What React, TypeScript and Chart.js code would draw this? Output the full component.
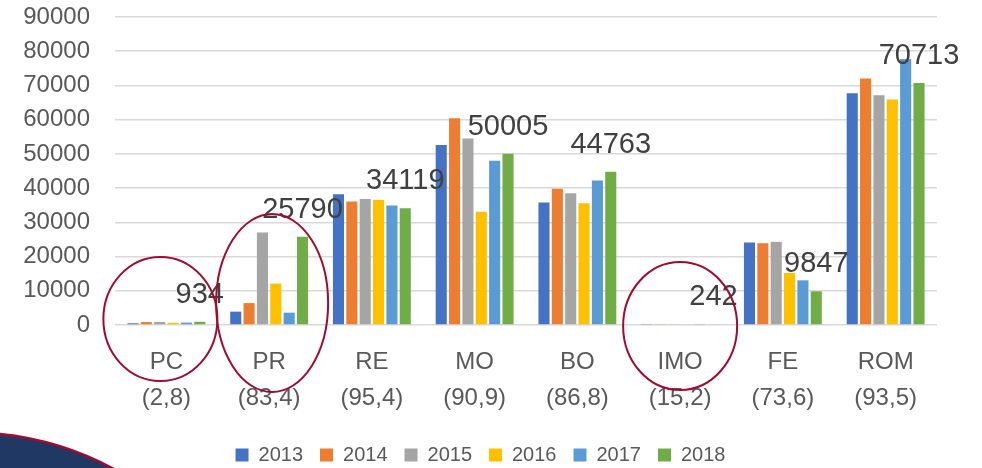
import React, { useEffect, useRef } from "react";
import { Chart, registerables } from "chart.js";

Chart.register(...registerables);

const categories: string[][] = [
  ["PC", "(2,8)"],
  ["PR", "(83,4)"],
  ["RE", "(95,4)"],
  ["MO", "(90,9)"],
  ["BO", "(86,8)"],
  ["IMO", "(15,2)"],
  ["FE", "(73,6)"],
  ["ROM", "(93,5)"],
];

const years = ["2013", "2014", "2015", "2016", "2017", "2018"];

const s2013 = [500, 3900, 38200, 52600, 35800, 300, 24100, 67700];
const s2014 = [850, 6400, 36100, 60400, 39800, 280, 23900, 72000];
const s2015 = [900, 27000, 36800, 54500, 38500, 250, 24300, 67100];
const s2016 = [650, 12100, 36500, 33100, 35600, 200, 15200, 65900];
const s2017 = [700, 3600, 34900, 48000, 42250, 300, 13050, 77700];
const s2018 = [934, 25790, 34119, 50005, 44763, 242, 9847, 70713];

const seriesValues = [s2013, s2014, s2015, s2016, s2017, s2018];
const seriesColors = ["#4472C4", "#ED7D31", "#A5A5A5", "#FFC000", "#5B9BD5", "#70AD47"];

const yMin = 0;
const yMax = 90000;
const yStep = 10000;

// highlighted categories (ellipse annotations): category index, offsets, radii
const highlightIndex = [0, 1, 5];
const highlightDx = [-6, 3, 0];
const highlightDy = [-6, -22, 1];
const highlightRx = [57, 56, 57];
const highlightRy = [62, 89, 64];

const FONT = "'Liberation Sans', Arial, sans-serif";

const valueLabelPlugin = {
  id: "valueLabels",
  afterDatasetsDraw(chart: any) {
    const ctx = chart.ctx;
    const meta = chart.getDatasetMeta(5);
    ctx.save();
    ctx.font = `29px ${FONT}`;
    ctx.fillStyle = "#404040";
    ctx.textAlign = "center";
    ctx.textBaseline = "alphabetic";
    meta.data.forEach((bar: any, i: number) => {
      ctx.fillText(String(s2018[i]), bar.x, bar.y - 19);
    });
    ctx.restore();
  },
};

const decorPlugin = {
  id: "decor",
  afterDraw(chart: any) {
    const ctx = chart.ctx;
    const xs = chart.scales.x;
    const ys = chart.scales.y;
    const zero = ys.getPixelForValue(0);
    ctx.save();
    ctx.strokeStyle = "#A20A2E";
    ctx.lineWidth = 2;
    highlightIndex.forEach((idx, k) => {
      const cx = xs.getPixelForValue(idx) + highlightDx[k];
      const cy = zero + highlightDy[k];
      ctx.beginPath();
      ctx.ellipse(cx, cy, highlightRx[k], highlightRy[k], 0, 0, Math.PI * 2);
      ctx.stroke();
    });
    // slide background shape bottom-left
    const H = chart.height;
    ctx.beginPath();
    ctx.moveTo(0, H - 34);
    ctx.quadraticCurveTo(60, H - 28, 114, H + 1);
    ctx.lineTo(0, H + 1);
    ctx.closePath();
    ctx.fillStyle = "#203864";
    ctx.fill();
    ctx.beginPath();
    ctx.moveTo(0, H - 34);
    ctx.quadraticCurveTo(60, H - 28, 114, H + 1);
    ctx.strokeStyle = "#A20A2E";
    ctx.lineWidth = 2.5;
    ctx.stroke();
    ctx.restore();
  },
};

export default function App() {
  const canvasRef = useRef<HTMLCanvasElement | null>(null);

  useEffect(() => {
    if (!canvasRef.current) return;
    Chart.defaults.font.family = FONT;
    const chart = new Chart(canvasRef.current, {
      type: "bar",
      data: {
        labels: categories,
        datasets: years.map((y, i) => ({
          label: y,
          data: seriesValues[i],
          backgroundColor: seriesColors[i],
          borderWidth: 0,
          categoryPercentage: 0.78,
          barPercentage: 0.83,
        })),
      },
      options: {
        responsive: false,
        animation: false,
        layout: { padding: { left: 24, right: 45, top: 17, bottom: 0 } },
        plugins: {
          tooltip: { enabled: false },
          legend: {
            position: "bottom",
            maxHeight: 40,
            labels: {
              boxWidth: 13,
              boxHeight: 13,
              padding: 17,
              color: "#595959",
              font: { size: 20, family: FONT },
            },
          },
        },
        scales: {
          x: {
            grid: { display: false, drawTicks: false },
            border: { display: false },
            ticks: {
              color: "#595959",
              font: { size: 24, lineHeight: 1.5, family: FONT },
              padding: 19,
              maxRotation: 0,
              autoSkip: false,
            },
            afterFit(scale: any) {
              scale.height = 103;
            },
          },
          y: {
            min: yMin,
            max: yMax,
            grid: { color: "#D9D9D9", lineWidth: 1.5, drawTicks: false },
            border: { display: false },
            ticks: {
              color: "#595959",
              font: { size: 24, family: FONT },
              padding: 25,
              stepSize: yStep,
              autoSkip: false,
              callback: (v: any) => String(v),
            },
            afterFit(scale: any) {
              scale.width = 91;
              scale.paddingTop = 0;
              scale.paddingBottom = 0;
            },
          },
        },
      },
      plugins: [valueLabelPlugin, decorPlugin],
    } as any);
    return () => chart.destroy();
  }, []);

  return (
    <div style={{ position: "fixed", left: 0, top: 0, width: 982, height: 468, background: "#fff" }}>
      <canvas ref={canvasRef} width={982} height={468} style={{ display: "block" }} />
    </div>
  );
}
